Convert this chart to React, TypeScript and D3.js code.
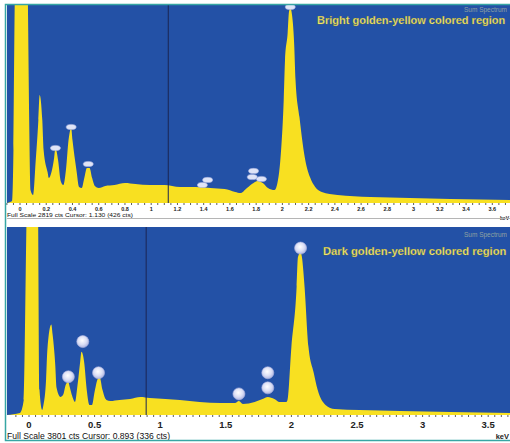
import React from "react";
import * as d3 from "d3";

type Pt = [number, number]; // [keV, counts]

// EDS sum spectrum of the bright golden-yellow region
const brightSpectrum: Pt[] = [
  [-0.1, 0], [-0.06, 28], [-0.05, 755], [-0.04, 2891], [0.015, 7163], [0.06, 2891],
  [0.07, 1182], [0.08, 185], [0.1, 114], [0.12, 612], [0.14, 1182], [0.15, 1538],
  [0.17, 1182], [0.18, 755], [0.21, 441], [0.22, 356], [0.24, 441], [0.26, 641],
  [0.27, 783], [0.29, 612], [0.31, 313], [0.33, 256], [0.35, 470], [0.37, 897],
  [0.39, 1068], [0.4, 897], [0.43, 470], [0.45, 228], [0.47, 214], [0.49, 356],
  [0.51, 498], [0.53, 498], [0.55, 356], [0.57, 242], [0.6, 214], [0.65, 242],
  [0.72, 256], [0.8, 285], [0.88, 271], [0.99, 256], [1.1, 256], [1.22, 228],
  [1.33, 228], [1.45, 214], [1.56, 199], [1.64, 157], [1.68, 142], [1.73, 214],
  [1.78, 285], [1.81, 313], [1.85, 285], [1.89, 214], [1.94, 185], [1.97, 370],
  [1.99, 755], [2.01, 1467], [2.02, 2036], [2.04, 2421], [2.05, 2720], [2.06, 2777],
  [2.07, 2720], [2.09, 2250], [2.1, 1752], [2.13, 1225], [2.17, 655], [2.21, 370],
  [2.25, 228], [2.3, 157], [2.42, 114], [2.67, 85], [2.97, 71], [3.28, 57], [3.74, 43],
];

// EDS sum spectrum of the dark golden-yellow region
const darkSpectrum: Pt[] = [
  [-0.17, 0], [-0.07, 41], [-0.04, 305], [-0.02, 3801], [0.02, 12500], [0.07, 3801],
  [0.08, 508], [0.1, 102], [0.11, 203], [0.13, 712], [0.14, 1321], [0.17, 1830],
  [0.18, 1626], [0.2, 1017], [0.21, 549], [0.24, 366], [0.26, 407], [0.28, 610],
  [0.3, 671], [0.31, 569], [0.34, 305], [0.35, 264], [0.37, 610], [0.39, 1077],
  [0.4, 1281], [0.42, 1077], [0.44, 508], [0.46, 203], [0.48, 203], [0.5, 468],
  [0.53, 752], [0.54, 752], [0.56, 508], [0.59, 305], [0.62, 285], [0.69, 305],
  [0.77, 325], [0.85, 366], [0.92, 346], [1.04, 325], [1.15, 305], [1.3, 264],
  [1.46, 244], [1.57, 244], [1.6, 285], [1.63, 224], [1.72, 264], [1.78, 325],
  [1.82, 366], [1.87, 325], [1.91, 264], [1.96, 264], [1.97, 305], [2.0, 1382],
  [2.04, 2602], [2.05, 3192], [2.07, 3293], [2.08, 3192], [2.1, 2602], [2.13, 1382],
  [2.17, 854], [2.2, 508], [2.26, 203], [2.33, 122], [2.52, 102], [2.83, 81],
  [3.21, 61], [3.67, 41],
];

// Peak identification markers
const brightMarkers: Pt[] = [
  [0.27, 783], [0.39, 1082], [0.52, 555], [1.39, 256], [1.43, 328],
  [1.78, 456], [1.77, 370], [1.84, 342], [2.06, 2791],
];
const darkMarkers: Pt[] = [
  [0.3, 773], [0.41, 1484], [0.53, 854], [1.6, 427], [1.82, 854], [1.82, 549], [2.07, 3375],
];

const brightTicks = [0, 0.2, 0.4, 0.6, 0.8, 1, 1.2, 1.4, 1.6, 1.8, 2, 2.2, 2.4, 2.6, 2.8, 3, 3.2, 3.4, 3.6];
const darkTicks = [0, 0.5, 1, 1.5, 2, 2.5, 3, 3.5];

const brightTitle = "Bright golden-yellow colored region";
const darkTitle = "Dark golden-yellow colored region";
const brightFooter = "Full Scale 2819 cts Cursor: 1.130 (426 cts)";
const darkFooter = "Full Scale 3801 cts Cursor: 0.893  (336 cts)";
const brightFullScale = 2819;
const darkFullScale = 3801;
const brightCursor = 1.13;
const darkCursor = 0.893;

const W = 510;
const H = 443;
const BLUE = "#2351a6";
const YELLOW = "#f8e021";
const TITLE = "#f1e66c";
const FONT = "'Liberation Sans', Arial, sans-serif";

type PanelProps = {
  id: string;
  data: Pt[];
  markers: Pt[];
  ticks: number[];
  fullScale: number;
  cursor: number;
  title: string;
  footer: string;
  top: number;
  bottom: number;
  xZero: number;
  xEnd: number;
  xMax: number;
  titleX: number;
  titleY: number;
  titleSize: number;
  tickSize: number;
  tickY: number;
  footerY: number;
  footerSize: number;
  footerLen: number;
  unitSize: number;
  unitY: number;
  ellipse: boolean;
  sumY: number;
};

function Panel(p: PanelProps) {
  const left = 7;
  const right = W;
  const x = d3.scaleLinear().domain([0, p.xMax]).range([p.xZero, p.xEnd]);
  const y = d3.scaleLinear().domain([0, p.fullScale]).range([p.bottom, p.top]);
  const area = d3
    .area<Pt>()
    .x((d) => x(d[0]))
    .y0(p.bottom)
    .y1((d) => y(d[1]))
    .curve(d3.curveMonotoneX);
  const minor = d3.range(-0.1, x.invert(right) + 0.001, 0.05);
  const fmt = (v: number) => String(+v.toFixed(1));
  return (
    <g>
      <defs>
        <clipPath id={`clip-${p.id}`}>
          <rect x={left} y={p.top} width={right - left} height={p.bottom - p.top} />
        </clipPath>
      </defs>
      <rect x={left} y={p.top} width={right - left} height={p.bottom - p.top} fill={BLUE} />
      <g clipPath={`url(#clip-${p.id})`}>
        <path d={area(p.data) ?? ""} fill={YELLOW} />
        <line
          x1={x(p.cursor)}
          x2={x(p.cursor)}
          y1={p.top}
          y2={p.bottom}
          stroke="#1b2552"
          strokeWidth={1}
        />
        {p.markers.map((m, i) =>
          p.ellipse ? (
            <ellipse
              key={i}
              cx={x(m[0])}
              cy={y(m[1])}
              rx={5}
              ry={2.6}
              fill="#dfe4f7"
              stroke="#aab4e0"
              strokeWidth={0.6}
            />
          ) : (
            <circle
              key={i}
              cx={x(m[0])}
              cy={y(m[1])}
              r={6}
              fill="url(#markerGrad)"
              stroke="#b3b9e2"
              strokeWidth={0.6}
            />
          )
        )}
      </g>
      <text
        x={right - 3}
        y={p.sumY}
        textAnchor="end"
        fontFamily={FONT}
        fontSize={6.5}
        fill="#a9b7a2"
        opacity={0.8}
      >
        Sum Spectrum
      </text>
      <text
        x={p.titleX}
        y={p.titleY}
        fontFamily={FONT}
        fontWeight="bold"
        fontSize={p.titleSize}
        fill={TITLE}
        stroke="#6d6a2c"
        strokeWidth={0.25}
      >
        {p.title}
      </text>
      {minor.map((v, i) => (
        <line
          key={i}
          x1={x(v)}
          x2={x(v)}
          y1={p.bottom}
          y2={p.bottom + 2}
          stroke="#333"
          strokeWidth={0.8}
        />
      ))}
      {p.ticks.map((v) => (
        <text
          key={v}
          x={x(v)}
          y={p.tickY}
          textAnchor="middle"
          fontFamily={FONT}
          fontWeight="bold"
          fontSize={p.tickSize}
          fill="#222"
        >
          {fmt(v)}
        </text>
      ))}
      <text
        x={left}
        y={p.footerY}
        fontFamily={FONT}
        fontSize={p.footerSize}
        fill="#111"
        textLength={p.footerLen}
        lengthAdjust="spacingAndGlyphs"
      >
        {p.footer}
      </text>
      <text
        x={right - 1}
        y={p.unitY}
        textAnchor="end"
        fontFamily={FONT}
        fontWeight="bold"
        fontSize={p.unitSize}
        fill="#222"
      >
        keV
      </text>
    </g>
  );
}

export default function App() {
  return (
    <div style={{ position: "absolute", left: 0, top: 0 }}>
      <svg width={W} height={H} viewBox={`0 0 ${W} ${H}`} style={{ display: "block", background: "#fff" }}>
        <defs>
          <radialGradient id="markerGrad" cx="0.45" cy="0.4" r="0.6">
            <stop offset="0%" stopColor="#ffffff" />
            <stop offset="60%" stopColor="#dadef5" />
            <stop offset="100%" stopColor="#aeb5e2" />
          </radialGradient>
        </defs>
        <Panel
          id="bright"
          data={brightSpectrum}
          markers={brightMarkers}
          ticks={brightTicks}
          fullScale={brightFullScale}
          cursor={brightCursor}
          title={brightTitle}
          footer={brightFooter}
          top={5}
          bottom={203}
          xZero={20}
          xEnd={20 + 3.6 * 131.2}
          xMax={3.6}
          titleX={317}
          titleY={24}
          titleSize={11}
          tickSize={5.5}
          tickY={210.5}
          footerY={216.5}
          footerSize={5.5}
          footerLen={126}
          unitSize={5}
          unitY={220}
          ellipse={true}
          sumY={12}
        />
        <line x1={7} x2={W} y1={218.5} y2={218.5} stroke="#b5b5b5" strokeWidth={1} />
        <Panel
          id="dark"
          data={darkSpectrum}
          markers={darkMarkers}
          ticks={darkTicks}
          fullScale={darkFullScale}
          cursor={darkCursor}
          title={darkTitle}
          footer={darkFooter}
          top={227}
          bottom={415}
          xZero={29}
          xEnd={29 + 3.5 * 131.2}
          xMax={3.5}
          titleX={323}
          titleY={255}
          titleSize={11.2}
          tickSize={9.5}
          tickY={428}
          footerY={439}
          footerSize={9}
          footerLen={163}
          unitSize={7.5}
          unitY={439}
          ellipse={false}
          sumY={237}
        />
        <rect
          x={5.5}
          y={4.5}
          width={W + 10}
          height={436}
          fill="none"
          stroke="#36a6a4"
          strokeWidth={1.5}
        />
      </svg>
    </div>
  );
}
